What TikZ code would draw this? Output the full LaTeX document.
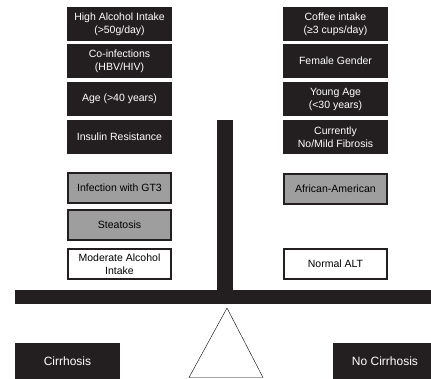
\documentclass[tikz,border=0pt]{standalone}
\usepackage{fontspec}
\setmainfont{Liberation Sans}
\definecolor{darkfill}{RGB}{35,31,32}
\definecolor{boxgray}{RGB}{158,158,158}
\begin{document}
\begin{tikzpicture}[x=1pt,y=-1pt,
  every node/.style={font=\fontsize{10.5}{13}\selectfont,align=center,inner sep=1pt},
  darkbox/.style={fill=darkfill,text=white,minimum width=105pt,minimum height=34pt},
  graybox/.style={fill=boxgray,draw=darkfill,line width=2pt,minimum width=103pt,minimum height=30pt},
  whitebox/.style={fill=white,draw=darkfill,line width=2pt,minimum width=103pt,minimum height=30pt},
  outcome/.style={darkbox,minimum height=36pt,font=\fontsize{12}{14}\selectfont}]
\useasboundingbox (0,0) rectangle (431,378);
% left pan
\node[darkbox] (alcohol) at (119.5,24) {High Alcohol Intake\\(>50g/day)};
\node[darkbox] (coinf) at (119.5,61) {Co-infections\\(HBV/HIV)};
\node[darkbox] (age) at (119.5,99) {Age (>40 years)};
\node[darkbox] (insulin) at (119.5,137) {Insulin Resistance};
\node[graybox] (gt3) at (119.5,188) {Infection with GT3};
\node[graybox] (steatosis) at (119.5,225) {Steatosis};
\node[whitebox] (modalc) at (119.5,264) {Moderate Alcohol\\Intake};
% right pan
\node[darkbox] (coffee) at (335.5,24) {Coffee intake\\(≥3 cups/day)};
\node[darkbox] (female) at (335.5,61) {Female Gender};
\node[darkbox] (young) at (335.5,99) {Young Age\\(<30 years)};
\node[darkbox] (fibrosis) at (335.5,137) {Currently\\No/Mild Fibrosis};
\node[graybox] (afram) at (335.5,188.5) {African-American};
\node[whitebox] (alt) at (335.5,264) {Normal ALT};
% scale
\fill[darkfill] (217,120) rectangle (233,291);
\fill[darkfill] (15,290) rectangle (431,304);
\draw[fill=white] (227,308) -- (263,377.5) -- (189,377.5) -- cycle;
% outcomes
\node[outcome] (cirr) at (67.5,361) {Cirrhosis};
\node[outcome,minimum width=104pt] (nocirr) at (385,361) {No Cirrhosis};
\end{tikzpicture}
\end{document}
